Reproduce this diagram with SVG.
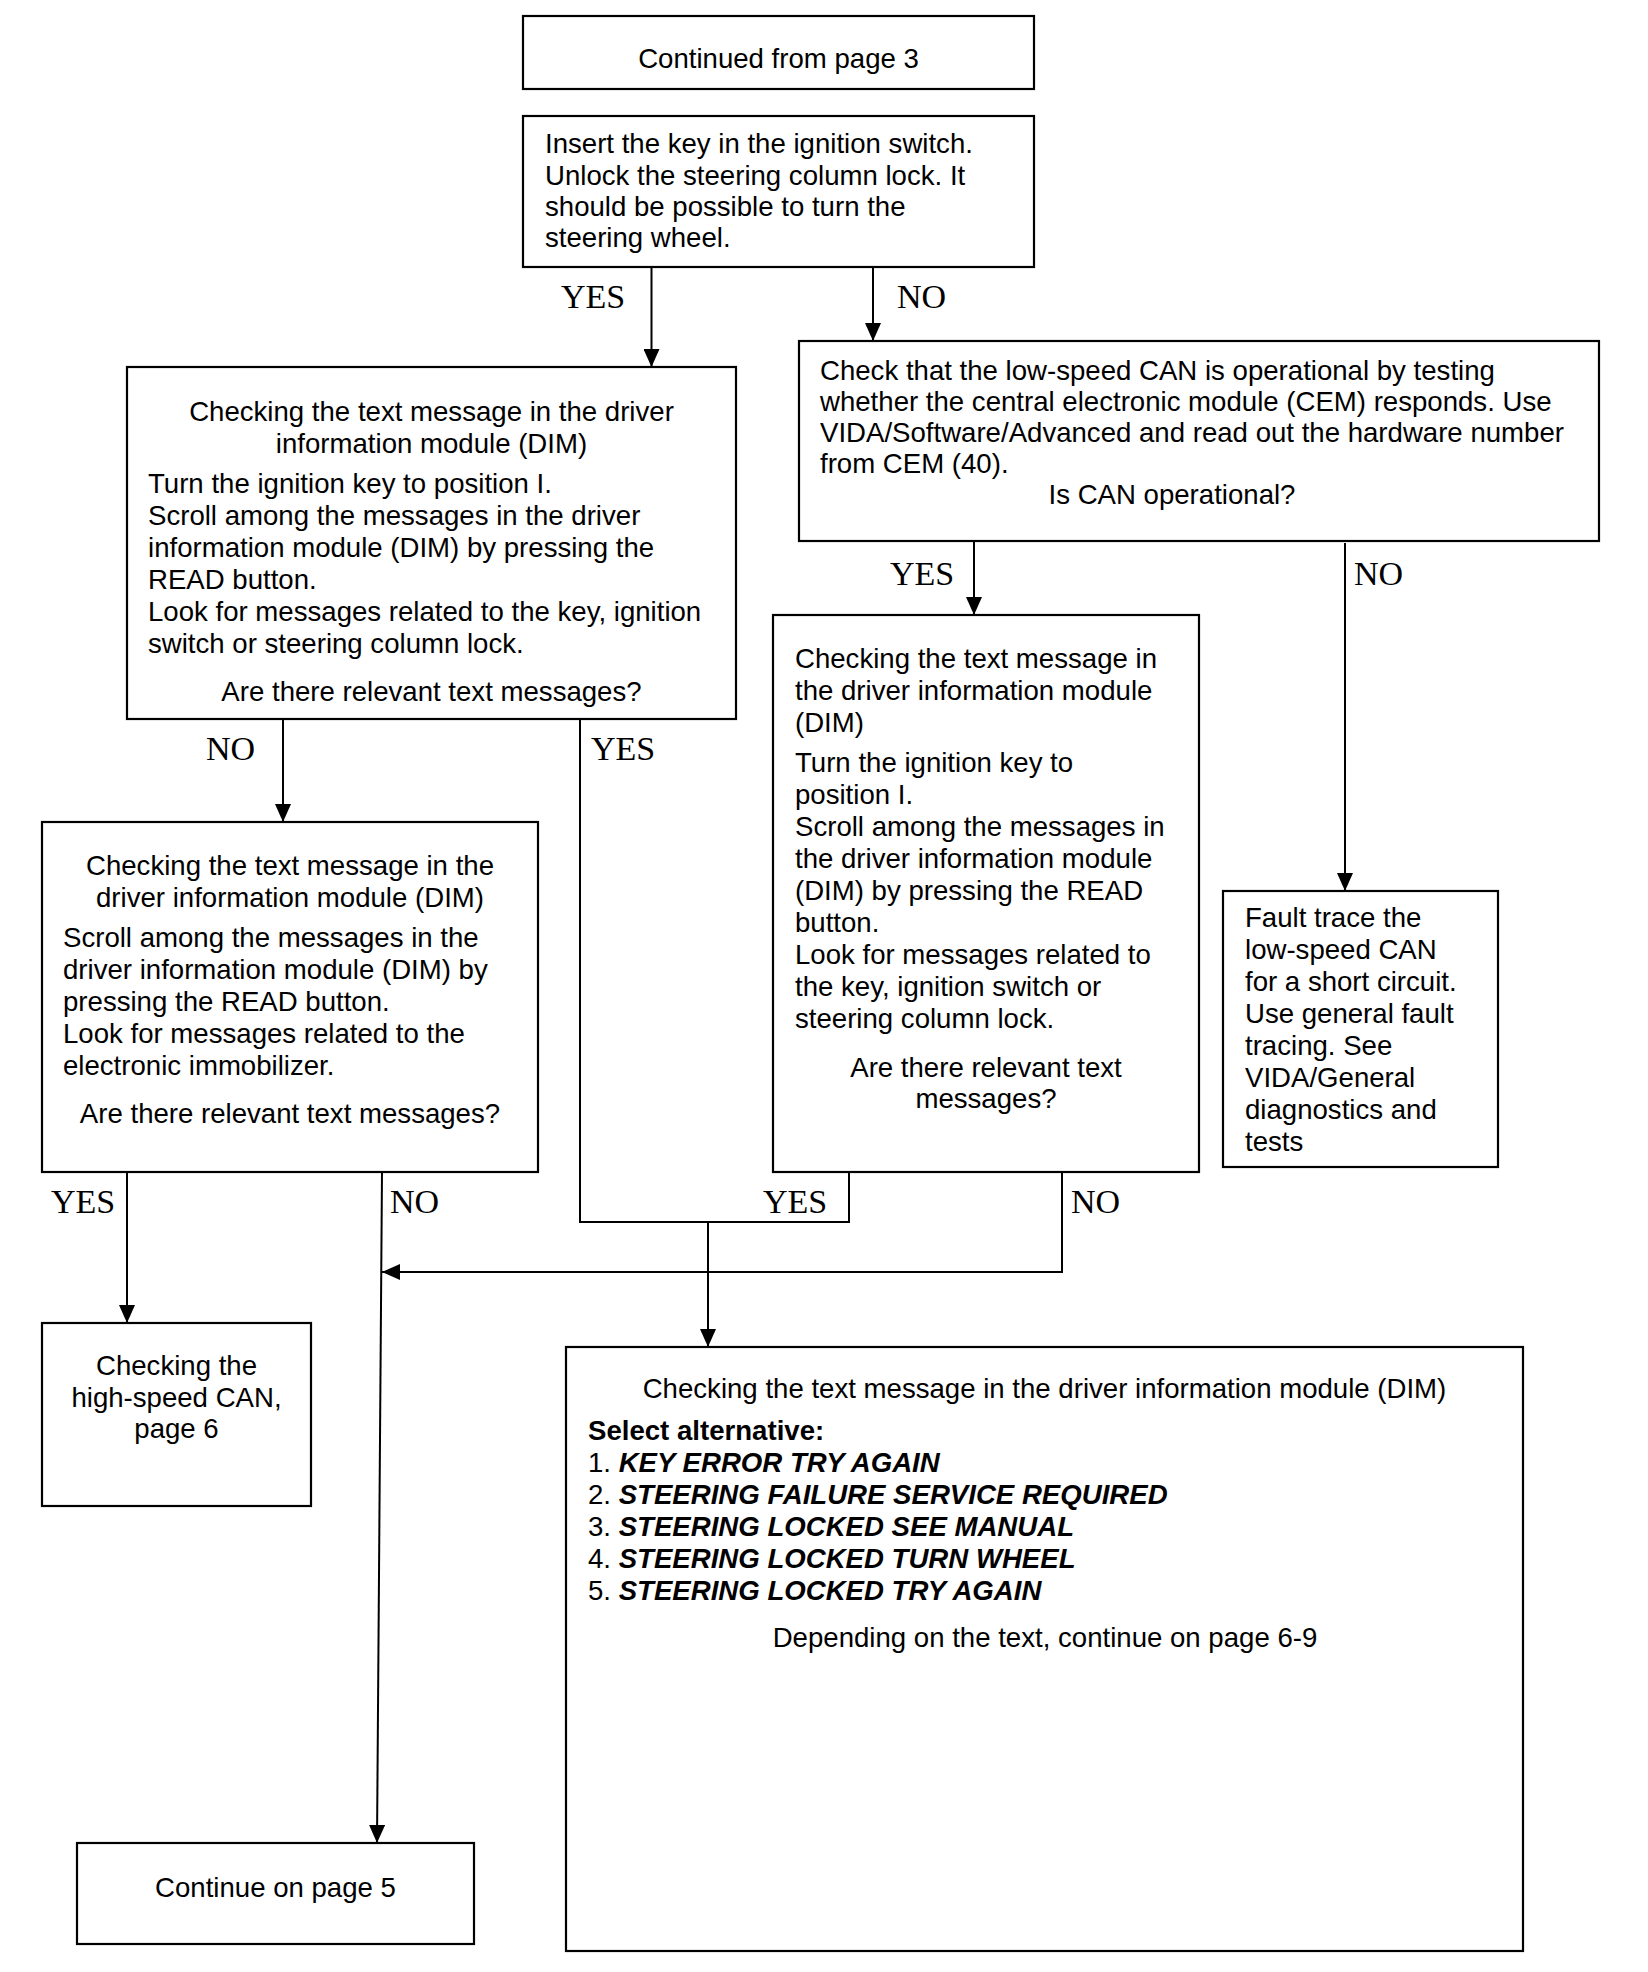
<svg xmlns="http://www.w3.org/2000/svg" width="1648" height="1972" viewBox="0 0 1648 1972">
<style>
.box{fill:#fff;stroke:#000;stroke-width:2.2}
.t{font-family:"Liberation Sans",Arial,sans-serif;font-size:27.6px;fill:#000}
.c{text-anchor:middle}
.b{font-weight:bold}
.bi{font-weight:bold;font-style:italic}
.lbl{font-family:"Liberation Serif","Times New Roman",serif;font-size:34px;fill:#000}
.ln{fill:none;stroke:#000;stroke-width:2}
</style>
<defs>
<marker id="ah" viewBox="0 0 18 16" refX="18" refY="8" markerWidth="18" markerHeight="16" markerUnits="userSpaceOnUse" orient="auto">
<path d="M0,0 L18,8 L0,16 z" fill="#000"/>
</marker>
</defs>
<rect width="1648" height="1972" fill="#fff"/>

<g id="connectors">
<path class="ln" d="M651.5,267 V367" marker-end="url(#ah)"/>
<path class="ln" d="M873,267 V341" marker-end="url(#ah)"/>
<path class="ln" d="M974,541 V615" marker-end="url(#ah)"/>
<path class="ln" d="M1345,543 V891" marker-end="url(#ah)"/>
<path class="ln" d="M283,719 V822" marker-end="url(#ah)"/>
<path class="ln" d="M580,719 V1222 H849 V1172"/>
<path class="ln" d="M708,1222 V1347" marker-end="url(#ah)"/>
<path class="ln" d="M1062,1172 V1272 H382" marker-end="url(#ah)"/>
<path class="ln" d="M382,1172 L377,1843" marker-end="url(#ah)"/>
<path class="ln" d="M127,1172 V1323" marker-end="url(#ah)"/>
<text class="lbl" x="561" y="308">YES</text>
<text class="lbl" x="897" y="308">NO</text>
<text class="lbl" x="890" y="585">YES</text>
<text class="lbl" x="1354" y="585">NO</text>
<text class="lbl" x="206" y="760">NO</text>
<text class="lbl" x="591" y="760">YES</text>
<text class="lbl" x="51" y="1213">YES</text>
<text class="lbl" x="390" y="1213">NO</text>
<text class="lbl" x="763" y="1213">YES</text>
<text class="lbl" x="1071" y="1213">NO</text>
</g>

<g id="start">
<rect class="box" x="523" y="16" width="511" height="73"/>
<text class="t c" x="778.5" y="68">Continued from page 3</text>
</g>

<g id="insert-key">
<rect class="box" x="523" y="116" width="511" height="151"/>
<text class="t" x="545" y="153">Insert the key in the ignition switch.</text>
<text class="t" x="545" y="185">Unlock the steering column lock. It</text>
<text class="t" x="545" y="216">should be possible to turn the</text>
<text class="t" x="545" y="247">steering wheel.</text>
</g>

<g id="check-can">
<rect class="box" x="799" y="341" width="800" height="200"/>
<text class="t" x="820" y="380">Check that the low-speed CAN is operational by testing</text>
<text class="t" x="820" y="411">whether the central electronic module (CEM) responds. Use</text>
<text class="t" x="820" y="442">VIDA/Software/Advanced and read out the hardware number</text>
<text class="t" x="820" y="473">from CEM (40).</text>
<text class="t c" x="1172" y="504">Is CAN operational?</text>
</g>

<g id="dim-1">
<rect class="box" x="127" y="367" width="609" height="352"/>
<text class="t c" x="431.5" y="421">Checking the text message in the driver</text>
<text class="t c" x="431.5" y="453">information module (DIM)</text>
<text class="t" x="148" y="493">Turn the ignition key to position I.</text>
<text class="t" x="148" y="525">Scroll among the messages in the driver</text>
<text class="t" x="148" y="557">information module (DIM) by pressing the</text>
<text class="t" x="148" y="589">READ button.</text>
<text class="t" x="148" y="621">Look for messages related to the key, ignition</text>
<text class="t" x="148" y="653">switch or steering column lock.</text>
<text class="t c" x="431.5" y="701">Are there relevant text messages?</text>
</g>

<g id="dim-2">
<rect class="box" x="773" y="615" width="426" height="557"/>
<text class="t" x="795" y="668">Checking the text message in</text>
<text class="t" x="795" y="700">the driver information module</text>
<text class="t" x="795" y="732">(DIM)</text>
<text class="t" x="795" y="772">Turn the ignition key to</text>
<text class="t" x="795" y="804">position I.</text>
<text class="t" x="795" y="836">Scroll among the messages in</text>
<text class="t" x="795" y="868">the driver information module</text>
<text class="t" x="795" y="900">(DIM) by pressing the READ</text>
<text class="t" x="795" y="932">button.</text>
<text class="t" x="795" y="964">Look for messages related to</text>
<text class="t" x="795" y="996">the key, ignition switch or</text>
<text class="t" x="795" y="1028">steering column lock.</text>
<text class="t c" x="986" y="1077">Are there relevant text</text>
<text class="t c" x="986" y="1108">messages?</text>
</g>

<g id="fault-trace">
<rect class="box" x="1223" y="891" width="275" height="276"/>
<text class="t" x="1245" y="927">Fault trace the</text>
<text class="t" x="1245" y="959">low-speed CAN</text>
<text class="t" x="1245" y="991">for a short circuit.</text>
<text class="t" x="1245" y="1023">Use general fault</text>
<text class="t" x="1245" y="1055">tracing. See</text>
<text class="t" x="1245" y="1087">VIDA/General</text>
<text class="t" x="1245" y="1119">diagnostics and</text>
<text class="t" x="1245" y="1151">tests</text>
</g>

<g id="dim-3">
<rect class="box" x="42" y="822" width="496" height="350"/>
<text class="t c" x="290" y="875">Checking the text message in the</text>
<text class="t c" x="290" y="907">driver information module (DIM)</text>
<text class="t" x="63" y="947">Scroll among the messages in the</text>
<text class="t" x="63" y="979">driver information module (DIM) by</text>
<text class="t" x="63" y="1011">pressing the READ button.</text>
<text class="t" x="63" y="1043">Look for messages related to the</text>
<text class="t" x="63" y="1075">electronic immobilizer.</text>
<text class="t c" x="290" y="1123">Are there relevant text messages?</text>
</g>

<g id="high-speed-can">
<rect class="box" x="42" y="1323" width="269" height="183"/>
<text class="t c" x="176.5" y="1375">Checking the</text>
<text class="t c" x="176.5" y="1407">high-speed CAN,</text>
<text class="t c" x="176.5" y="1438">page 6</text>
</g>

<g id="select-alternative">
<rect class="box" x="566" y="1347" width="957" height="604"/>
<text class="t c" x="1044.5" y="1398">Checking the text message in the driver information module (DIM)</text>
<text class="t b" x="588" y="1440">Select alternative:</text>
<text class="t" x="588" y="1472">1. <tspan class="bi">KEY ERROR TRY AGAIN</tspan></text>
<text class="t" x="588" y="1504">2. <tspan class="bi">STEERING FAILURE SERVICE REQUIRED</tspan></text>
<text class="t" x="588" y="1536">3. <tspan class="bi">STEERING LOCKED SEE MANUAL</tspan></text>
<text class="t" x="588" y="1568">4. <tspan class="bi">STEERING LOCKED TURN WHEEL</tspan></text>
<text class="t" x="588" y="1600">5. <tspan class="bi">STEERING LOCKED TRY AGAIN</tspan></text>
<text class="t c" x="1045" y="1647">Depending on the text, continue on page 6-9</text>
</g>

<g id="continue-5">
<rect class="box" x="77" y="1843" width="397" height="101"/>
<text class="t c" x="275.5" y="1897">Continue on page 5</text>
</g>
</svg>
